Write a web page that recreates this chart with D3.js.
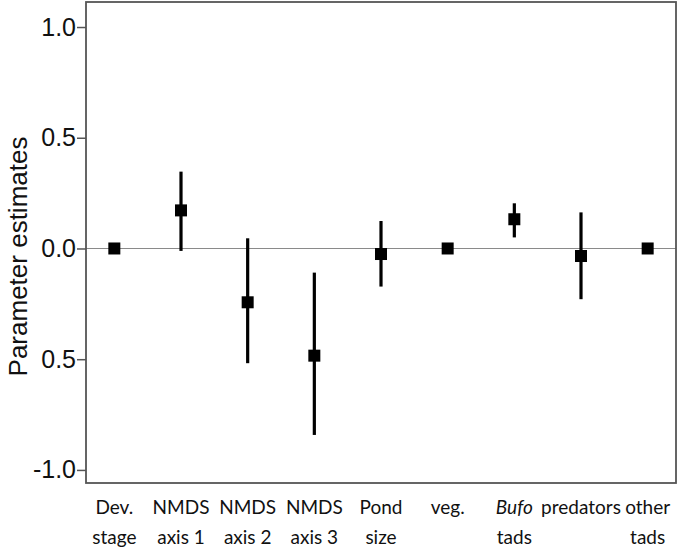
<!DOCTYPE html>
<html><head><meta charset="utf-8">
<script src="https://cdn.jsdelivr.net/npm/d3@7"></script>
<style>body{margin:0;background:#fff}svg{display:block}</style>
</head><body>
<svg id="c" width="685" height="550"></svg>
<script>
const categories = ["Dev. stage","NMDS axis 1","NMDS axis 2","NMDS axis 3","Pond size","veg.","Bufo tads","predators","other tads"];
const labelLine1 = ["Dev.","NMDS","NMDS","NMDS","Pond","veg.","Bufo","predators","other"];
const labelLine2 = ["stage","axis 1","axis 2","axis 3","size","","tads","","tads"];
const italicLine1 = [false,false,false,false,false,false,true,false,false];
const estimates = [0, 0.172, -0.243, -0.484, -0.025, 0, 0.132, -0.034, 0];
const lower = [0, -0.011, -0.518, -0.842, -0.172, 0, 0.05, -0.229, 0];
const upper = [0, 0.347, 0.046, -0.109, 0.124, 0, 0.204, 0.163, 0];
const yTicks = [1.0, 0.5, 0.0, -0.5, -1.0];
const yTickLabels = ["1.0", "0.5", "0.0", "0.5", "-1.0"];
const yTitle = "Parameter estimates";

const svg = d3.select("#c");
const L = 86, R = 676, T = 2, B = 483;
const x = d3.scalePoint().domain(categories).range([L, R]).padding(0.425);
const y = d3.scaleLinear().domain([-1.059, 1.113]).range([B, T]);

// zero line
svg.append("line").attr("x1", L).attr("x2", R).attr("y1", y(0)).attr("y2", y(0))
  .attr("stroke", "#8a8a8a").attr("stroke-width", 1.2);

// y axis ticks
const yAxis = d3.axisLeft(y).tickValues(yTicks).tickSize(9).tickPadding(1)
  .tickFormat((d, i) => yTickLabels[i]);
const ga = svg.append("g").attr("transform", `translate(${L},0)`).call(yAxis);
ga.select(".domain").remove();
ga.selectAll(".tick line").attr("stroke", "#555").attr("stroke-width", 1.5);
ga.selectAll(".tick text").attr("font-family", "Liberation Sans, Arial, sans-serif")
  .attr("font-size", 25).attr("fill", "#111");

// error bars
const g = svg.append("g");
categories.forEach((c, i) => {
  if (upper[i] !== lower[i]) {
    g.append("line").attr("x1", x(c)).attr("x2", x(c))
      .attr("y1", y(upper[i])).attr("y2", y(lower[i]))
      .attr("stroke", "#000").attr("stroke-width", 3.2);
  }
  g.append("rect").attr("x", x(c) - 6).attr("y", y(estimates[i]) - 6)
    .attr("width", 12).attr("height", 12).attr("fill", "#000");
});

// frame
svg.append("rect").attr("x", L).attr("y", T).attr("width", R - L).attr("height", B - T)
  .attr("fill", "none").attr("stroke", "#555").attr("stroke-width", 1.8);

// x labels
const xl = svg.append("g").attr("font-family", "Lato, 'Open Sans', sans-serif")
  .attr("font-size", 19).attr("fill", "#111").attr("text-anchor", "middle");
categories.forEach((c, i) => {
  xl.append("text").attr("x", x(c)).attr("y", 514).text(labelLine1[i])
    .attr("font-style", italicLine1[i] ? "italic" : "normal");
  if (labelLine2[i]) xl.append("text").attr("x", x(c)).attr("y", 544).text(labelLine2[i]);
});

// y title
svg.append("text").attr("transform", `translate(27,${(T + B) / 2 + 14}) rotate(-90)`)
  .attr("text-anchor", "middle").attr("font-family", "Liberation Sans, Arial, sans-serif")
  .attr("font-size", 26).attr("fill", "#111").text(yTitle);
</script>
</body></html>
